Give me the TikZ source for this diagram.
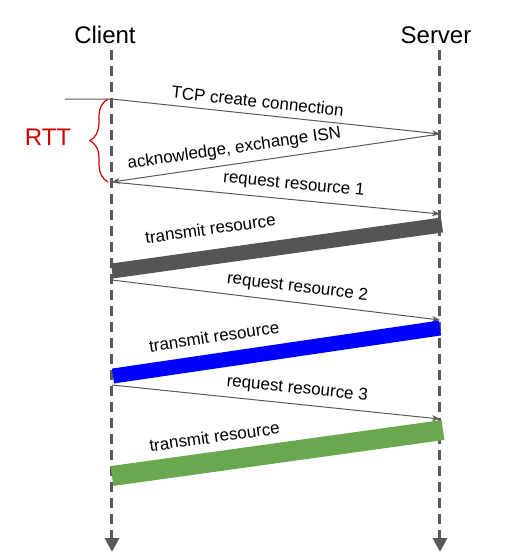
\documentclass[tikz,border=0pt]{standalone}
\usepackage{fontspec}
\setmainfont{Liberation Sans}
\usetikzlibrary{arrows.meta, decorations.pathreplacing}
\definecolor{linegray}{HTML}{595959}
\definecolor{bandgray}{HTML}{555555}
\definecolor{bandblue}{HTML}{0000FF}
\definecolor{bandgreen}{HTML}{6AA84F}
\definecolor{rttred}{HTML}{CC0000}

\begin{document}
\begin{tikzpicture}[
    x=0.5pt, y=-0.5pt,
    head/.style={font=\fontsize{12}{14}\selectfont},
    lifeline/.style={draw=linegray, line width=1.5pt, dash pattern=on 5pt off 3pt, -{Triangle[length=7pt, width=7pt, fill=linegray]}},
    msg/.style={draw=linegray, line width=0.5pt, -{Stealth[length=4pt, width=3pt]}},
    band/.style={line width=#1, line cap=butt},
    lbl/.style={font=\fontsize{8.5}{10}\selectfont, text=black, sloped, above}
  ]
    \useasboundingbox (0,0) rectangle (515,559);
    \node[head] (client) at (105,35) {Client};
    \node[head] (server) at (436,35) {Server};
    \coordinate (ctop) at (112,50);
    \coordinate (cbot) at (112,552);
    \coordinate (stop) at (440,50);
    \coordinate (sbot) at (440,552);
    \draw[lifeline] (ctop) -- (cbot);
    \draw[lifeline] (stop) -- (sbot);

    \coordinate (open) at (65,99);
    \coordinate (syn) at (112,99);
    \coordinate (synack) at (440,134);
    \coordinate (ack) at (112,182);
    \coordinate (req1) at (440,214);
    \coordinate (tx1a) at (112,271);
    \coordinate (tx1b) at (442,225);
    \coordinate (req2a) at (112,280);
    \coordinate (req2b) at (440,320);
    \coordinate (tx2a) at (113,376);
    \coordinate (tx2b) at (440,328);
    \coordinate (req3a) at (112,385);
    \coordinate (req3b) at (440,419);
    \coordinate (tx3a) at (112,476);
    \coordinate (tx3b) at (443,430);

    \draw[msg] (open) -- (syn) -- node[lbl, pos=0.44] {TCP create connection} (synack);
    \draw[msg, {Stealth[length=4pt, width=3pt]}-] (ack) -- node[lbl, pos=0.38] {acknowledge, exchange ISN} (synack);
    \draw[msg] (ack) -- node[lbl, pos=0.55] {request resource 1} (req1);
    \draw[band=7.5pt, bandgray] (tx1a) -- node[lbl, pos=0.31, above=4pt] {transmit resource} (tx1b);
    \draw[msg] (req2a) -- node[lbl, pos=0.56] {request resource 2} (req2b);
    \draw[band=7.5pt, bandblue] (tx2a) -- node[lbl, pos=0.32, above=2pt] {transmit resource} (tx2b);
    \draw[msg] (req3a) -- node[lbl, pos=0.56] {request resource 3} (req3b);
    \draw[band=10pt, bandgreen] (tx3a) -- node[lbl, pos=0.32, above=1pt] {transmit resource} (tx3b);

    \draw[rttred, line width=0.6pt, decorate, decoration={brace, amplitude=9pt}] (108,182) -- (108,99);
    \node[head, text=rttred] (rtt) at (48,137) {RTT};
  \end{tikzpicture}
\end{document}
